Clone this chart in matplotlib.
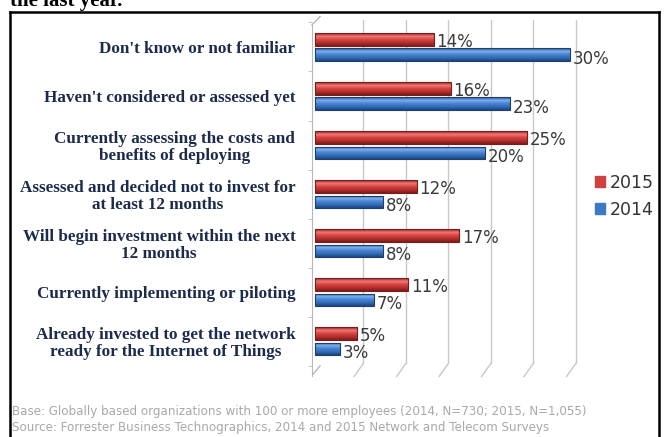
import numpy as np
import matplotlib
matplotlib.use("Agg")
import matplotlib.pyplot as plt
from matplotlib.colors import LinearSegmentedColormap
from matplotlib.patches import Rectangle

# Data
categories = [
    "Don't know or not familiar",
    "Haven't considered or assessed yet",
    "Currently assessing the costs and\nbenefits of deploying",
    "Assessed and decided not to invest for\nat least 12 months",
    "Will begin investment within the next\n12 months",
    "Currently implementing or piloting",
    "Already invested to get the network\nready for the Internet of Things",
]
values_2015 = [14, 16, 25, 12, 17, 11, 5]
values_2014 = [30, 23, 20, 8, 8, 7, 3]
series_names = ["2015", "2014"]
grid_ticks = [0, 5, 10, 15, 20, 25, 30]

base_note = "Base: Globally based organizations with 100 or more employees (2014, N=730; 2015, N=1,055)"
source_note = "Source: Forrester Business Technographics, 2014 and 2015 Network and Telecom Surveys"

# Style
red = "#d0403e"
blue = "#3d78c6"
red_cmap = LinearSegmentedColormap.from_list(
    "r", ["#8e2220", "#f07a76", "#d8423f", "#b3302e", "#7c1c1b"])
blue_cmap = LinearSegmentedColormap.from_list(
    "b", ["#1f4f8e", "#7fb0ea", "#4683d2", "#336bb5", "#1c467f"])
bar_h = 0.26
offset = 0.16

W, H = 667, 437
fig = plt.figure(figsize=(W / 100, H / 100), dpi=100)
ax = fig.add_axes([312 / W, 1 - 378 / H, 272 / W, 358 / H])
ax.set_xlim(-0.35, 31.65)
ax.set_ylim(6.75, -0.55)

y = np.arange(len(categories))
grad = np.linspace(0, 1, 64).reshape(-1, 1)


def cyl_bars(ypos, vals, cmap, edge):
    bars = ax.barh(ypos, vals, height=bar_h, color="none",
                   edgecolor=edge, linewidth=0.8, zorder=3)
    for b in bars:
        x0, y0 = b.get_x(), b.get_y()
        w, h = b.get_width(), b.get_height()
        im = ax.imshow(grad, cmap=cmap, aspect="auto",
                       extent=(x0, x0 + w, y0 + h, y0), zorder=2)
        clip = Rectangle((x0, y0), w, h, transform=ax.transData)
        im.set_clip_path(clip)
    return bars


cyl_bars(y - offset, values_2015, red_cmap, "#7a1c1a")
cyl_bars(y + offset, values_2014, blue_cmap, "#1c3f70")

for yi, v in zip(y, values_2015):
    ax.text(v + 0.3, yi - offset + 0.06, f"{v}%", va="center", ha="left",
            fontsize=12, color="#3a3a3a", zorder=4)
for yi, v in zip(y, values_2014):
    ax.text(v + 0.3, yi + offset + 0.08, f"{v}%", va="center", ha="left",
            fontsize=12, color="#3a3a3a", zorder=4)

# back wall gridlines with a little floor slant
for t in grid_ticks[1:]:
    ax.plot([t + 0.7, t + 0.7], [-0.55, 6.45], color="#c8c8c8", lw=1.0, zorder=1)
    ax.plot([t + 0.7, t - 0.4], [6.45, 6.72], color="#c8c8c8", lw=1.0, zorder=1)
ax.plot([-0.35, 0.6], [-0.45, -0.62], color="#b8b8b8", lw=1.0, zorder=1, clip_on=False)
ax.plot([-0.35, 0.6], [6.7, 6.5], color="#b8b8b8", lw=1.0, zorder=1)

for s in ["top", "right", "bottom"]:
    ax.spines[s].set_visible(False)
ax.spines["left"].set_color("#b8b8b8")
ax.spines["left"].set_bounds(-0.45, 6.7)
ax.set_xticks([])
ax.set_yticks(y)
ax.set_yticklabels(categories, fontfamily="Liberation Serif", fontweight="bold",
                   fontsize=12.3, color="#1c2a4c", multialignment="center",
                   linespacing=1.05)
ax.tick_params(axis="y", which="major", length=0, pad=12)
ax.set_yticks(np.arange(-0.5, 7.0, 1.0), minor=True)
ax.tick_params(axis="y", which="minor", length=3, color="#b8b8b8")

# legend
handles = [Rectangle((0, 0), 1, 1, color=red), Rectangle((0, 0), 1, 1, color=blue)]
fig.legend(handles, series_names, loc="upper left",
           bbox_to_anchor=(595 / W, 1 - 174 / H), frameon=False,
           borderpad=0, borderaxespad=0,
           handlelength=0.6, handleheight=0.6, handletextpad=0.25,
           labelspacing=0.5, prop={"size": 12.5}, labelcolor="#333333")

# notes
fig.text(12 / W, 1 - 412 / H, base_note, fontsize=8.6, color="#a8a8a8", va="center")
fig.text(12 / W, 1 - 428 / H, source_note, fontsize=8.6, color="#a8a8a8", va="center")

# frame and clipped heading text
fig.add_artist(plt.Line2D([10 / W, 10 / W], [0, 1 - 12 / H], color="black", lw=1.8))
fig.add_artist(plt.Line2D([659 / W, 659 / W], [0, 1 - 12 / H], color="black", lw=1.8))
fig.add_artist(plt.Line2D([10 / W, 659 / W], [1 - 12 / H, 1 - 12 / H], color="black", lw=1.8))
fig.text(10 / W, 1 - 1 / H, "the last year.", fontsize=15, fontfamily="Liberation Serif",
         fontweight="bold", va="center", ha="left", color="black")

fig.savefig("out.png", dpi=100)
